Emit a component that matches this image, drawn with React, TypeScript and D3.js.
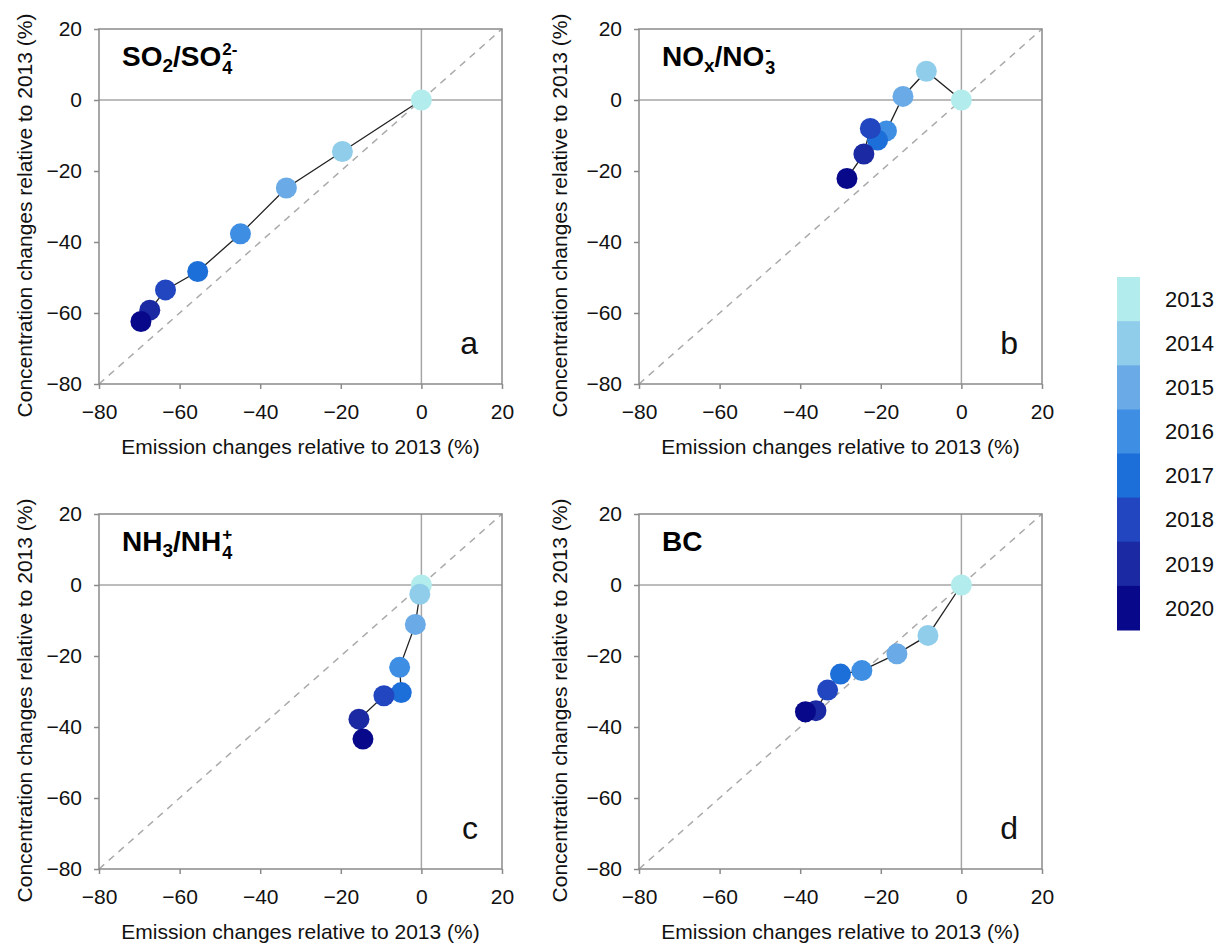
import React, { useEffect, useRef } from 'react';
import * as d3 from 'd3';

const years = ['2013', '2014', '2015', '2016', '2017', '2018', '2019', '2020'];
const yearColors = ['#b3ecec', '#90cdea', '#6aaae6', '#3e8fe3', '#1c6ed8', '#2146c0', '#1b2aa2', '#08088a'];
const tickValues = [-80, -60, -40, -20, 0, 20];

// emission change (x) / concentration change (y), one value per year
const so2Emission = [0, -19.6, -33.5, -44.9, -55.5, -63.5, -67.4, -69.6];
const so2Conc = [0, -14.5, -24.8, -37.7, -48.3, -53.5, -59.2, -62.4];
const noxEmission = [0, -8.7, -14.5, -18.6, -20.8, -22.6, -24.2, -28.4];
const noxConc = [0, 8.1, 1.0, -8.7, -11.3, -8.0, -15.2, -22.1];
const nh3Emission = [0, -0.4, -1.5, -5.4, -5.0, -9.3, -15.5, -14.5];
const nh3Conc = [0, -2.6, -11.1, -23.2, -30.3, -31.2, -37.8, -43.4];
const bcEmission = [0, -8.3, -16.0, -24.7, -30.0, -33.2, -36.1, -38.7];
const bcConc = [0, -14.2, -19.4, -24.1, -25.1, -29.6, -35.4, -35.7];

const panels = [
  { x: so2Emission, y: so2Conc, letter: 'a', left: 99, top: 29, title: [{ t: 'SO' }, { t: '2', sub: true }, { t: '/SO' }], stack: ['4', '2-'] },
  { x: noxEmission, y: noxConc, letter: 'b', left: 639, top: 29, title: [{ t: 'NO' }, { t: 'x', sub: true }, { t: '/NO' }], stack: ['3', '-'] },
  { x: nh3Emission, y: nh3Conc, letter: 'c', left: 99, top: 514, title: [{ t: 'NH' }, { t: '3', sub: true }, { t: '/NH' }], stack: ['4', '+'] },
  { x: bcEmission, y: bcConc, letter: 'd', left: 639, top: 514, title: [{ t: 'BC' }], stack: null },
];

const W = 403, H = 355;
const font = 'Arial, "Liberation Sans", sans-serif';

export default function App() {
  const ref = useRef<SVGSVGElement>(null);

  useEffect(() => {
    const svg = d3.select(ref.current);
    svg.selectAll('*').remove();

    const x = d3.scaleLinear().domain([-80, 20]).range([0, W]);
    const y = d3.scaleLinear().domain([-80, 20]).range([H, 0]);

    panels.forEach(p => {
      const g = svg.append('g').attr('transform', `translate(${p.left},${p.top})`);
      const pts = p.x.map((v, i) => [v, p.y[i]] as [number, number]);

      // zero lines
      g.append('line').attr('x1', 0).attr('x2', W).attr('y1', y(0)).attr('y2', y(0))
        .attr('stroke', '#a6a6a6').attr('stroke-width', 1.5);
      g.append('line').attr('x1', x(0)).attr('x2', x(0)).attr('y1', 0).attr('y2', H)
        .attr('stroke', '#a6a6a6').attr('stroke-width', 1.5);

      // 1:1 line
      g.append('line').attr('x1', x(-80)).attr('y1', y(-80)).attr('x2', x(20)).attr('y2', y(20))
        .attr('stroke', '#aaaaaa').attr('stroke-width', 1.5).attr('stroke-dasharray', '7,6');

      // frame
      g.append('rect').attr('width', W).attr('height', H)
        .attr('fill', 'none').attr('stroke', '#8a8a8a').attr('stroke-width', 1.5);

      const xAxis = g.append('g').attr('transform', `translate(0,${H})`)
        .call(d3.axisBottom(x).tickValues(tickValues).tickSize(5).tickPadding(15));
      const yAxis = g.append('g')
        .call(d3.axisLeft(y).tickValues(tickValues).tickSize(5).tickPadding(12));
      [xAxis, yAxis].forEach(a => {
        a.select('.domain').remove();
        a.selectAll('line').attr('stroke', '#8a8a8a').attr('stroke-width', 1.5);
        a.selectAll('text').attr('font-size', 21).attr('font-family', font).attr('fill', '#111');
      });

      g.append('text').attr('x', W / 2).attr('y', H + 70).attr('text-anchor', 'middle')
        .attr('font-size', 21).attr('font-family', font).attr('fill', '#111')
        .text('Emission changes relative to 2013 (%)');
      g.append('text')
        .attr('transform', `translate(${p.left === 99 ? -67 : -72},${H / 2 + 9}) rotate(-90)`)
        .attr('text-anchor', 'middle')
        .attr('font-size', 21).attr('font-family', font).attr('fill', '#111')
        .text('Concentration changes relative to 2013 (%)');

      // connecting line
      g.append('path').datum(pts)
        .attr('d', d3.line<[number, number]>().x(d => x(d[0])).y(d => y(d[1])))
        .attr('fill', 'none').attr('stroke', '#222').attr('stroke-width', 1.3);

      g.selectAll('.pt').data(pts).enter().append('circle')
        .attr('cx', d => x(d[0])).attr('cy', d => y(d[1])).attr('r', 10.5)
        .attr('fill', (d, i) => yearColors[i]);

      // title
      const title = g.append('text').attr('x', 23).attr('y', 37)
        .attr('font-size', 28).attr('font-weight', 'bold').attr('font-family', font).attr('fill', '#000');
      let shifted = false;
      p.title.forEach((s: any) => {
        const ts = title.append('tspan').text(s.t);
        if (s.sub) { ts.attr('font-size', 19).attr('dy', 6); shifted = true; }
        else if (shifted) { ts.attr('dy', -6); shifted = false; }
      });
      if (p.stack) {
        const len = (title.node() as SVGTextElement).getComputedTextLength();
        g.append('text').attr('x', 23 + len + 1).attr('y', 45)
          .attr('font-size', 18).attr('font-weight', 'bold').attr('font-family', font).text(p.stack[0]);
        g.append('text').attr('x', 23 + len + 1).attr('y', 26)
          .attr('font-size', 17).attr('font-weight', 'bold').attr('font-family', font).text(p.stack[1]);
      }

      g.append('text').attr('x', W - 24).attr('y', H - 30).attr('text-anchor', 'end')
        .attr('font-size', 32).attr('font-family', font).attr('fill', '#111').text(p.letter);
    });

    // legend
    const ly = d3.scaleBand().domain(years).range([277, 630]);
    const leg = svg.append('g');
    leg.selectAll('rect').data(years).enter().append('rect')
      .attr('x', 1117).attr('y', d => ly(d)!).attr('width', 23).attr('height', ly.bandwidth() + 0.5)
      .attr('fill', (d, i) => yearColors[i]);
    leg.selectAll('text').data(years).enter().append('text')
      .attr('x', 1165).attr('y', d => ly(d)! + ly.bandwidth() / 2).attr('dy', '0.35em')
      .attr('font-size', 22).attr('font-family', font).attr('fill', '#111')
      .text(d => d);
  }, []);

  return (
    <svg ref={ref} width={1225} height={943}
      style={{ position: 'absolute', left: 0, top: 0, background: '#fff' }} />
  );
}
